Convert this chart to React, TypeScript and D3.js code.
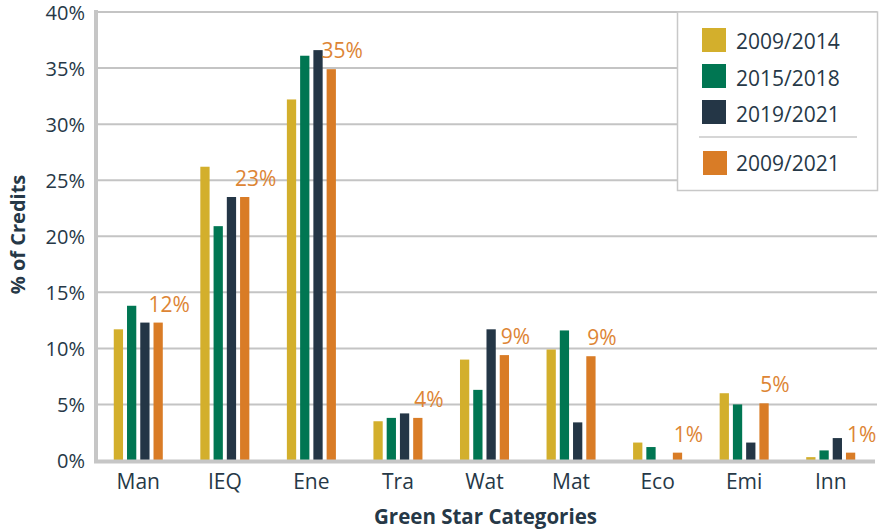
import React from "react";
import * as d3 from "d3";

const categories = ["Man", "IEQ", "Ene", "Tra", "Wat", "Mat", "Eco", "Emi", "Inn"];
const seriesNames = ["2009/2014", "2015/2018", "2019/2021", "2009/2021"];
const s2009_2014 = [11.7, 26.2, 32.2, 3.5, 9.0, 9.9, 1.6, 6.0, 0.3];
const s2015_2018 = [13.8, 20.9, 36.1, 3.8, 6.3, 11.6, 1.2, 5.0, 0.9];
const s2019_2021 = [12.3, 23.5, 36.6, 4.2, 11.7, 3.4, 0.0, 1.6, 2.0];
const s2009_2021 = [12.3, 23.5, 34.9, 3.8, 9.4, 9.3, 0.7, 5.1, 0.7];
const dataLabels = ["12%", "23%", "35%", "4%", "9%", "9%", "1%", "5%", "1%"];
const yTicks = [0, 5, 10, 15, 20, 25, 30, 35, 40];

const colors = ["#D3AF2C", "#007652", "#243646", "#D97C26"];
const textColor = "#263847";
const labelColor = "#DD8535";
const gridColor = "#C4C4C4";
const font = "'Open Sans', sans-serif";

export default function App() {
  const W = 882;
  const H = 530;
  const seriesValues = [s2009_2014, s2015_2018, s2019_2021, s2009_2021];

  const y = d3.scaleLinear().domain([0, 40]).range([460.5, 12]);
  const x0 = d3.scaleBand<string>().domain(categories).range([95, 874]);
  const groupW = 53;
  const x1 = d3
    .scaleBand<string>()
    .domain(seriesNames)
    .range([0, groupW])
    .paddingInner(0.3)
    .paddingOuter(0.15);

  const center = (c: string) => (x0(c) as number) + x0.bandwidth() / 2;

  return (
    <svg
      width={W}
      height={H}
      style={{ position: "absolute", left: 0, top: 0, background: "#fff" }}
      fontFamily={font}
    >
      {/* gridlines */}
      {yTicks.slice(1).map((t) => (
        <line
          key={"g" + t}
          x1={96}
          x2={877}
          y1={y(t)}
          y2={y(t)}
          stroke={gridColor}
          strokeWidth={2}
        />
      ))}
      {/* tick labels */}
      {yTicks.map((t) => (
        <text
          key={"t" + t}
          x={85}
          y={y(t)}
          textAnchor="end"
          dominantBaseline="central"
          fontSize={20}
          fill={textColor}
        >
          {t + "%"}
        </text>
      ))}
      {/* bars */}
      {categories.map((c, i) => (
        <g key={c} transform={`translate(${center(c) - groupW / 2},0)`}>
          {seriesNames.map((s, k) => {
            const v = seriesValues[k][i];
            if (v <= 0) return null;
            return (
              <rect
                key={s}
                x={x1(s) as number}
                y={y(v)}
                width={x1.bandwidth()}
                height={y(0) - y(v)}
                fill={colors[k]}
              />
            );
          })}
        </g>
      ))}
      {/* data labels */}
      {categories.map((c, i) => {
        const xo = center(c) - groupW / 2 + (x1(seriesNames[3]) as number) + x1.bandwidth() / 2;
        return (
          <text
            key={"l" + c}
            x={xo + 11}
            y={y(s2009_2021[i]) - 11}
            textAnchor="middle"
            fontSize={21}
            fill={labelColor}
          >
            {dataLabels[i]}
          </text>
        );
      })}
      {/* axes */}
      <line x1={96} x2={96} y1={10} y2={463} stroke="#C6C6C6" strokeWidth={4} />
      <line x1={94} x2={875} y1={461.5} y2={461.5} stroke="#C6C6C6" strokeWidth={4} />
      {/* category labels */}
      {categories.map((c) => (
        <text
          key={"c" + c}
          x={center(c)}
          y={489}
          textAnchor="middle"
          fontSize={21}
          fill={textColor}
        >
          {c}
        </text>
      ))}
      {/* axis titles */}
      <text
        x={485.5}
        y={524}
        textAnchor="middle"
        fontSize={20.5}
        fontWeight="bold"
        fill={textColor}
      >
        Green Star Categories
      </text>
      <text
        transform="translate(25,234.5) rotate(-90)"
        textAnchor="middle"
        fontSize={20}
        fontWeight="bold"
        fill={textColor}
      >
        % of Credits
      </text>
      {/* legend */}
      <g>
        <rect x={677.5} y={12} width={200} height={178.5} fill="#fff" stroke="#C8C8C8" strokeWidth={1.5} />
        {[0, 1, 2].map((k) => (
          <g key={"lg" + k}>
            <rect x={702} y={28 + k * 36} width={24} height={24} fill={colors[k]} />
            <text x={736} y={49 + k * 36.5} fontSize={21} fill={textColor}>
              {seriesNames[k]}
            </text>
          </g>
        ))}
        <line x1={699} x2={857} y1={137} y2={137} stroke="#C8C8C8" strokeWidth={1.5} />
        <rect x={703} y={151} width={24} height={24} fill={colors[3]} />
        <text x={736} y={171} fontSize={21} fill={textColor}>
          {seriesNames[3]}
        </text>
      </g>
    </svg>
  );
}
